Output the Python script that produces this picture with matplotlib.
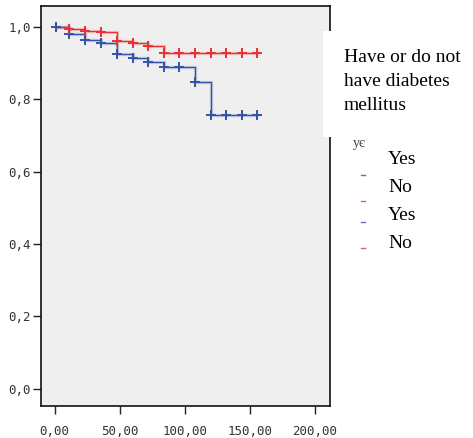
import matplotlib
matplotlib.use("Agg")
import matplotlib.pyplot as plt
from matplotlib.lines import Line2D
from matplotlib.patches import Rectangle

# Survival estimates (Kaplan-Meier style step curves)
times = [1, 11, 23, 36, 48, 60, 72, 84, 96, 108, 120, 132, 144, 156]
surv_yes = [1.0, 0.981, 0.965, 0.955, 0.926, 0.915, 0.903, 0.889, 0.889,
            0.849, 0.757, 0.757, 0.757, 0.757]
surv_no = [1.0, 0.994, 0.990, 0.986, 0.960, 0.957, 0.947, 0.927, 0.927,
           0.927, 0.927, 0.927, 0.927, 0.927]
censor_yes = times
censor_no = times[1:]

x_ticks = [0, 50, 100, 150, 200]
x_tick_labels = ["0,00", "50,00", "100,00", "150,00", "200,00"]
y_ticks = [0.0, 0.2, 0.4, 0.6, 0.8, 1.0]
y_tick_labels = ["0,0", "0,2", "0,4", "0,6", "0,8", "1,0"]

legend_title = ["Have or do not", "have diabetes", "mellitus"]
legend_labels = ["Yes", "No", "Yes", "No"]

BLUE = "#3353a8"
RED = "#ea2f35"

W, H = 473, 438
fig = plt.figure(figsize=(W / 100, H / 100), dpi=100)
ax = fig.add_axes([40.5 / W, (H - 405.5) / H, 289 / W, 399.5 / H])
ax.set_facecolor("#efefef")

def draw_curve(t, s, cens, color):
    lookup = dict(zip(t, s))
    ax.step(t, s, where="post", color=color, lw=2.4, alpha=0.22,
            solid_joinstyle="miter", zorder=2)
    ax.step(t, s, where="post", color=color, lw=0.9, zorder=3)
    ax.plot(cens, [lookup[c] for c in cens], ls="none", marker="+",
            ms=6.5, mew=1.4, color=color, zorder=4)

draw_curve(times, surv_yes, censor_yes, BLUE)
draw_curve(times, surv_no, censor_no, RED)

ax.set_xlim(-10.9, 211.4)
ax.set_ylim(-0.047, 1.058)
ax.set_xticks(x_ticks)
ax.set_xticklabels(x_tick_labels)
ax.set_yticks(y_ticks)
ax.set_yticklabels(y_tick_labels)
for lab in ax.get_xticklabels() + ax.get_yticklabels():
    lab.set_family("DejaVu Sans Mono")
    lab.set_fontsize(9)
    lab.set_color("#333333")
ax.tick_params(axis="x", length=6, width=1, pad=8, color="#222222")
ax.tick_params(axis="y", length=6, width=1, pad=1, color="#222222")
for sp in ax.spines.values():
    sp.set_linewidth(1.2)
    sp.set_color("#111111")

# Legend block on the right
fig.patches.append(Rectangle((323 / W, (H - 137) / H), (W - 323) / W, 106 / H,
                             transform=fig.transFigure, facecolor="white",
                             edgecolor="none", zorder=10))
for line, ty in zip(legend_title, [57, 81, 105]):
    fig.text(344 / W, 1 - ty / H, line, family="Liberation Serif",
             fontsize=14, va="center", ha="left", zorder=11)
fig.text(353 / W, 1 - 143 / H, "yє", family="Liberation Serif", fontsize=10,
         va="center", ha="left", color="#444444", zorder=11)

label_y = [160, 188, 216, 244]
mark_y = [175, 201, 222, 248]
mark_col = [BLUE, RED, BLUE, RED]
for lab, ly, my, mc in zip(legend_labels, label_y, mark_y, mark_col):
    fig.text(388 / W, 1 - ly / H, lab, family="Liberation Serif",
             fontsize=14, va="center", ha="left", zorder=11)
    fig.lines.append(Line2D([361 / W, 365 / W], [1 - my / H, 1 - my / H],
                            transform=fig.transFigure, color=mc, lw=1.0,
                            alpha=0.8, zorder=11))

fig.savefig("out.png", dpi=100)
